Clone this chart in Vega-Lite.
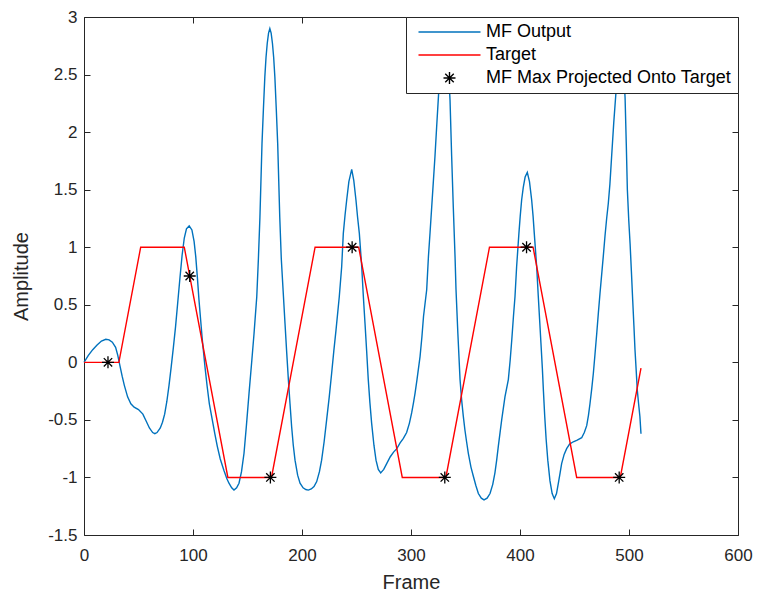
{
  "$schema": "https://vega.github.io/schema/vega-lite/v6.json",
  "width": 654,
  "height": 518,
  "autosize": "none",
  "padding": {"left": 84, "top": 17, "right": 20, "bottom": 61},
  "background": "white",
  "config": {
    "view": {"stroke": null},
    "axis": {
      "domainColor": "#262626", "tickColor": "#262626", "labelColor": "#262626", "titleColor": "#262626",
      "labelFont": "Liberation Sans", "titleFont": "Liberation Sans", "labelFontSize": 17, "titleFontSize": 20,
      "titleFontWeight": "normal", "tickSize": -6, "grid": false, "domainWidth": 1, "tickWidth": 1,
      "labelFlush": false, "labelOverlap": false
    },
    "legend": {
      "labelFont": "Liberation Sans", "labelFontSize": 18, "labelColor": "#000000", "labelLimit": 400,
      "symbolSize": 100, "padding": 6, "rowPadding": 5, "offset": 0, "labelOffset": 56,
      "strokeColor": "#262626", "fillColor": "white", "strokeWidth": 1
    }
  },
  "datasets": {
    "mf": [
      {"frame":0,"amplitude":0},{"frame":4,"amplitude":0.06},{"frame":8,"amplitude":0.11},{"frame":12,"amplitude":0.15},{"frame":16,"amplitude":0.185},{"frame":20,"amplitude":0.2},{"frame":23,"amplitude":0.195},{"frame":26,"amplitude":0.175},{"frame":29,"amplitude":0.13},{"frame":31,"amplitude":0.06},{"frame":33,"amplitude":-0.03},{"frame":35,"amplitude":-0.12},{"frame":37,"amplitude":-0.2},{"frame":40,"amplitude":-0.3},{"frame":43,"amplitude":-0.36},{"frame":46,"amplitude":-0.39},{"frame":50,"amplitude":-0.41},{"frame":54,"amplitude":-0.45},{"frame":57,"amplitude":-0.51},{"frame":60,"amplitude":-0.57},{"frame":63,"amplitude":-0.61},{"frame":65,"amplitude":-0.62},{"frame":67,"amplitude":-0.61},{"frame":70,"amplitude":-0.57},{"frame":72,"amplitude":-0.52},{"frame":74,"amplitude":-0.45},{"frame":76,"amplitude":-0.34},{"frame":78,"amplitude":-0.2},{"frame":80,"amplitude":-0.04},{"frame":82,"amplitude":0.13},{"frame":84,"amplitude":0.31},{"frame":86,"amplitude":0.52},{"frame":88,"amplitude":0.73},{"frame":90,"amplitude":0.93},{"frame":92,"amplitude":1.08},{"frame":94,"amplitude":1.16},{"frame":96.5,"amplitude":1.185},{"frame":99,"amplitude":1.15},{"frame":101,"amplitude":1.05},{"frame":102.5,"amplitude":0.92},{"frame":104,"amplitude":0.74},{"frame":105.5,"amplitude":0.54},{"frame":107,"amplitude":0.37},{"frame":108.5,"amplitude":0.2},{"frame":111,"amplitude":-0.04},{"frame":113,"amplitude":-0.21},{"frame":115,"amplitude":-0.36},{"frame":117.7,"amplitude":-0.5},{"frame":120,"amplitude":-0.62},{"frame":122.3,"amplitude":-0.73},{"frame":125,"amplitude":-0.84},{"frame":128.4,"amplitude":-0.94},{"frame":131,"amplitude":-1.01},{"frame":133,"amplitude":-1.05},{"frame":135.5,"amplitude":-1.09},{"frame":137.6,"amplitude":-1.11},{"frame":140,"amplitude":-1.09},{"frame":142.2,"amplitude":-1.05},{"frame":144.5,"amplitude":-0.95},{"frame":146.8,"amplitude":-0.79},{"frame":149,"amplitude":-0.55},{"frame":151.4,"amplitude":-0.27},{"frame":154,"amplitude":0.02},{"frame":156,"amplitude":0.25},{"frame":158.5,"amplitude":0.57},{"frame":160,"amplitude":0.9},{"frame":161.4,"amplitude":1.26},{"frame":163.3,"amplitude":1.9},{"frame":164.6,"amplitude":2.2},{"frame":165.9,"amplitude":2.48},{"frame":167,"amplitude":2.65},{"frame":168.1,"amplitude":2.77},{"frame":169.3,"amplitude":2.86},{"frame":170.5,"amplitude":2.9},{"frame":171.7,"amplitude":2.86},{"frame":172.9,"amplitude":2.77},{"frame":174,"amplitude":2.65},{"frame":175.1,"amplitude":2.48},{"frame":176.4,"amplitude":2.2},{"frame":177.7,"amplitude":1.9},{"frame":179.6,"amplitude":1.26},{"frame":181,"amplitude":0.9},{"frame":182.7,"amplitude":0.62},{"frame":184.4,"amplitude":0.34},{"frame":186,"amplitude":0.08},{"frame":187.5,"amplitude":-0.15},{"frame":189,"amplitude":-0.36},{"frame":190.5,"amplitude":-0.56},{"frame":192,"amplitude":-0.72},{"frame":193.6,"amplitude":-0.85},{"frame":196,"amplitude":-0.98},{"frame":198.2,"amplitude":-1.05},{"frame":201,"amplitude":-1.09},{"frame":203.5,"amplitude":-1.105},{"frame":205.8,"amplitude":-1.11},{"frame":208.5,"amplitude":-1.1},{"frame":211,"amplitude":-1.08},{"frame":213.5,"amplitude":-1.036},{"frame":216,"amplitude":-0.95},{"frame":218,"amplitude":-0.85},{"frame":220.3,"amplitude":-0.69},{"frame":222.6,"amplitude":-0.5},{"frame":225,"amplitude":-0.3},{"frame":227.2,"amplitude":-0.095},{"frame":229.2,"amplitude":0.1},{"frame":231.2,"amplitude":0.28},{"frame":234.2,"amplitude":0.57},{"frame":236.4,"amplitude":0.83},{"frame":237.9,"amplitude":1.12},{"frame":239.5,"amplitude":1.28},{"frame":241,"amplitude":1.41},{"frame":243,"amplitude":1.57},{"frame":245.6,"amplitude":1.677},{"frame":247.5,"amplitude":1.58},{"frame":249.5,"amplitude":1.41},{"frame":251,"amplitude":1.26},{"frame":252.6,"amplitude":1.12},{"frame":254.8,"amplitude":0.83},{"frame":256.3,"amplitude":0.57},{"frame":257.8,"amplitude":0.34},{"frame":259.3,"amplitude":0.1},{"frame":260.8,"amplitude":-0.15},{"frame":262.3,"amplitude":-0.35},{"frame":263.9,"amplitude":-0.53},{"frame":266,"amplitude":-0.72},{"frame":267.9,"amplitude":-0.85},{"frame":270,"amplitude":-0.93},{"frame":272.2,"amplitude":-0.96},{"frame":275,"amplitude":-0.93},{"frame":277.7,"amplitude":-0.88},{"frame":281,"amplitude":-0.82},{"frame":284,"amplitude":-0.78},{"frame":287,"amplitude":-0.75},{"frame":290,"amplitude":-0.7},{"frame":293,"amplitude":-0.66},{"frame":296,"amplitude":-0.61},{"frame":298.5,"amplitude":-0.53},{"frame":300.6,"amplitude":-0.44},{"frame":302.3,"amplitude":-0.35},{"frame":303.7,"amplitude":-0.27},{"frame":305.5,"amplitude":-0.15},{"frame":308.3,"amplitude":0.05},{"frame":310,"amplitude":0.22},{"frame":311.5,"amplitude":0.4},{"frame":313,"amplitude":0.52},{"frame":314.4,"amplitude":0.63},{"frame":316,"amplitude":0.92},{"frame":317.5,"amplitude":1.13},{"frame":319,"amplitude":1.35},{"frame":320.5,"amplitude":1.57},{"frame":322,"amplitude":1.79},{"frame":323.5,"amplitude":2.04},{"frame":325,"amplitude":2.28},{"frame":326.5,"amplitude":2.52},{"frame":328,"amplitude":2.72},{"frame":329.3,"amplitude":2.85},{"frame":330.5,"amplitude":2.9},{"frame":331.8,"amplitude":2.85},{"frame":333,"amplitude":2.75},{"frame":334.5,"amplitude":2.52},{"frame":335.8,"amplitude":2.28},{"frame":337.3,"amplitude":1.79},{"frame":338.8,"amplitude":1.35},{"frame":340.4,"amplitude":0.92},{"frame":341.3,"amplitude":0.63},{"frame":343,"amplitude":0.25},{"frame":345,"amplitude":-0.15},{"frame":346.5,"amplitude":-0.33},{"frame":348,"amplitude":-0.47},{"frame":349.5,"amplitude":-0.59},{"frame":351,"amplitude":-0.69},{"frame":352.6,"amplitude":-0.79},{"frame":355,"amplitude":-0.91},{"frame":357.2,"amplitude":-0.99},{"frame":359.5,"amplitude":-1.07},{"frame":361.8,"amplitude":-1.14},{"frame":364.5,"amplitude":-1.18},{"frame":367,"amplitude":-1.195},{"frame":369.8,"amplitude":-1.18},{"frame":372.5,"amplitude":-1.14},{"frame":375,"amplitude":-1.06},{"frame":377,"amplitude":-0.96},{"frame":378.6,"amplitude":-0.85},{"frame":380.1,"amplitude":-0.73},{"frame":381.7,"amplitude":-0.61},{"frame":383.2,"amplitude":-0.5},{"frame":386.2,"amplitude":-0.3},{"frame":389.3,"amplitude":-0.15},{"frame":391,"amplitude":0.02},{"frame":392.5,"amplitude":0.2},{"frame":394,"amplitude":0.4},{"frame":395.4,"amplitude":0.57},{"frame":396.9,"amplitude":0.83},{"frame":399,"amplitude":1.12},{"frame":400.2,"amplitude":1.27},{"frame":401.5,"amplitude":1.41},{"frame":403,"amplitude":1.52},{"frame":404.7,"amplitude":1.61},{"frame":406.7,"amplitude":1.65},{"frame":408.7,"amplitude":1.57},{"frame":410.7,"amplitude":1.41},{"frame":412,"amplitude":1.27},{"frame":413.1,"amplitude":1.12},{"frame":415.3,"amplitude":0.83},{"frame":416.8,"amplitude":0.57},{"frame":418,"amplitude":0.37},{"frame":419.2,"amplitude":0.17},{"frame":420.5,"amplitude":-0.05},{"frame":421.5,"amplitude":-0.25},{"frame":422.7,"amplitude":-0.47},{"frame":424,"amplitude":-0.67},{"frame":425.5,"amplitude":-0.85},{"frame":427.5,"amplitude":-1.03},{"frame":429.5,"amplitude":-1.14},{"frame":431.5,"amplitude":-1.185},{"frame":433.5,"amplitude":-1.14},{"frame":435.2,"amplitude":-1.05},{"frame":436.8,"amplitude":-0.96},{"frame":438.2,"amplitude":-0.88},{"frame":440.5,"amplitude":-0.8},{"frame":442.8,"amplitude":-0.75},{"frame":445.5,"amplitude":-0.71},{"frame":448.9,"amplitude":-0.69},{"frame":452.5,"amplitude":-0.675},{"frame":456.6,"amplitude":-0.655},{"frame":459,"amplitude":-0.61},{"frame":461.2,"amplitude":-0.55},{"frame":462.8,"amplitude":-0.46},{"frame":464.2,"amplitude":-0.36},{"frame":465.8,"amplitude":-0.23},{"frame":467.3,"amplitude":-0.095},{"frame":468.8,"amplitude":0.07},{"frame":470.4,"amplitude":0.25},{"frame":471.9,"amplitude":0.43},{"frame":473.4,"amplitude":0.6},{"frame":474.9,"amplitude":0.76},{"frame":476.4,"amplitude":0.92},{"frame":478,"amplitude":1.1},{"frame":479.5,"amplitude":1.25},{"frame":481,"amplitude":1.38},{"frame":482.5,"amplitude":1.55},{"frame":484,"amplitude":1.78},{"frame":486,"amplitude":2.08},{"frame":488,"amplitude":2.34},{"frame":489.5,"amplitude":2.55},{"frame":491,"amplitude":2.7},{"frame":492.3,"amplitude":2.75},{"frame":493.6,"amplitude":2.7},{"frame":495,"amplitude":2.55},{"frame":496.4,"amplitude":2.3},{"frame":497.5,"amplitude":1.9},{"frame":498.5,"amplitude":1.5},{"frame":499.8,"amplitude":1.23},{"frame":501,"amplitude":1.03},{"frame":502.2,"amplitude":0.79},{"frame":503.4,"amplitude":0.54},{"frame":504.5,"amplitude":0.32},{"frame":505.5,"amplitude":0.11},{"frame":506.6,"amplitude":-0.07},{"frame":507.6,"amplitude":-0.24},{"frame":508.8,"amplitude":-0.36},{"frame":510,"amplitude":-0.47},{"frame":511,"amplitude":-0.62}
    ],
    "target": [
      {"frame":0,"amplitude":0},{"frame":32,"amplitude":0},{"frame":52,"amplitude":1},{"frame":92,"amplitude":1},{"frame":132,"amplitude":-1},{"frame":172,"amplitude":-1},{"frame":212,"amplitude":1},{"frame":252,"amplitude":1},{"frame":292,"amplitude":-1},{"frame":332,"amplitude":-1},{"frame":372,"amplitude":1},{"frame":412,"amplitude":1},{"frame":452,"amplitude":-1},{"frame":492,"amplitude":-1},{"frame":511,"amplitude":-0.05}
    ],
    "stars": [
      {"frame":22,"amplitude":0},{"frame":97,"amplitude":0.75},{"frame":171,"amplitude":-1},{"frame":246,"amplitude":1},{"frame":331,"amplitude":-1},{"frame":406,"amplitude":1},{"frame":491,"amplitude":-1}
    ]
  },
  "layer": [
    {
      "data": {"name": "mf"},
      "mark": {"type": "line", "strokeWidth": 1.4},
      "encoding": {
        "x": {"field": "frame", "type": "quantitative", "scale": {"domain": [0, 600], "nice": false, "zero": false},
              "axis": {"orient": "bottom", "title": "Frame", "values": [0,100,200,300,400,500,600], "labelPadding": 18, "titlePadding": 9, "labelExpr": "'' + datum.value"}},
        "y": {"field": "amplitude", "type": "quantitative", "scale": {"domain": [-1.5, 3], "nice": false, "zero": false},
              "axis": {"orient": "left", "title": "Amplitude", "values": [-1.5,-1,-0.5,0,0.5,1,1.5,2,2.5,3], "labelPadding": 13, "titlePadding": 16, "labelExpr": "'' + datum.value"}},
        "color": {"datum": "MF Output", "type": "nominal",
          "scale": {"domain": ["MF Output", "Target", "MF Max Projected Onto Target"], "range": ["#0072BD", "#FF0000", "#000000"]},
          "legend": {
            "title": null, "orient": "top-right",
            "encode": {
              "symbols": {"update": {
                "shape": {"signal": "datum.value === 'MF Max Projected Onto Target' ? 'M4.5,0H6.9M5.7,-1.2V1.2M4.85,-0.85L6.55,0.85M4.85,0.85L6.55,-0.85' : 'M-0.5,0H11.9'"},
                "stroke": {"signal": "datum.value === 'MF Output' ? '#0072BD' : datum.value === 'Target' ? '#FF0000' : '#000000'"},
                "fill": {"value": "transparent"},
                "size": {"value": 100},
                "strokeWidth": {"value": 1.4},
                "opacity": {"value": 1}
              }}
            }
          }
        }
      }
    },
    {
      "data": {"name": "target"},
      "mark": {"type": "line", "strokeWidth": 1.4},
      "encoding": {
        "x": {"field": "frame", "type": "quantitative", "axis": null},
        "y": {"field": "amplitude", "type": "quantitative", "axis": null},
        "color": {"datum": "Target", "type": "nominal"}
      }
    },
    {
      "data": {"name": "stars"},
      "mark": {"type": "point", "shape": "M-1,0H1M0,-1V1M-0.7,-0.7L0.7,0.7M-0.7,0.7L0.7,-0.7", "size": 144, "strokeWidth": 1.3, "filled": false, "opacity": 1},
      "encoding": {
        "x": {"field": "frame", "type": "quantitative",
              "axis": {"orient": "top", "title": null, "labels": false, "values": [0,100,200,300,400,500,600]}},
        "y": {"field": "amplitude", "type": "quantitative",
              "axis": {"orient": "right", "title": null, "labels": false, "values": [-1.5,-1,-0.5,0,0.5,1,1.5,2,2.5,3]}},
        "color": {"datum": "MF Max Projected Onto Target", "type": "nominal"}
      }
    }
  ],
  "resolve": {"axis": {"x": "independent", "y": "independent"}}
}
